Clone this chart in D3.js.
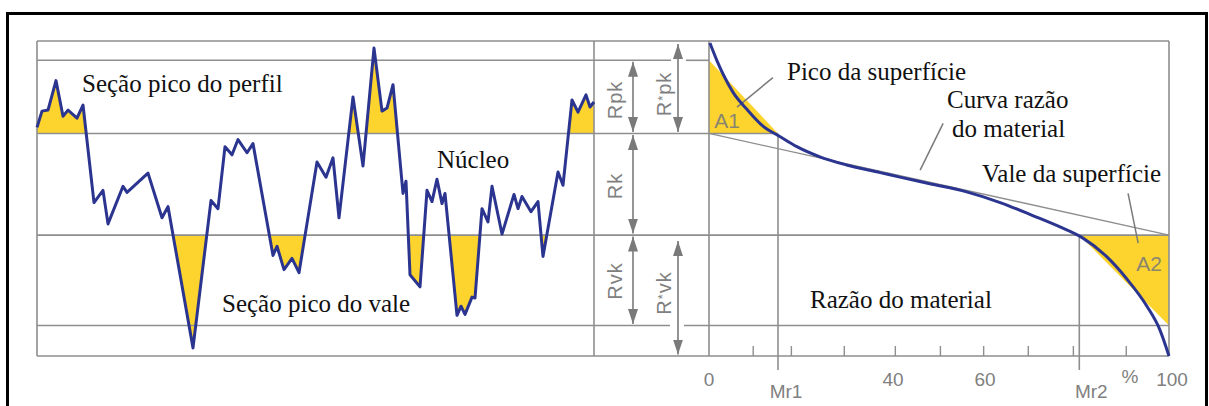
<!DOCTYPE html>
<html>
<head>
<meta charset="utf-8">
<script src="https://cdn.jsdelivr.net/npm/d3@7"></script>
<style>
  html, body { margin: 0; padding: 0; background: #fff; }
  svg { display: block; }
  .serif { font-family: "Liberation Serif", "Times New Roman", serif; font-size: 25px; fill: #111; }
  .sans { font-family: "Liberation Sans", Arial, sans-serif; fill: #808080; }
</style>
</head>
<body>
<script>
const W = 1209, H = 406;

// perfil: posição ao longo do traço (µm) e altura (µm)
const profilePos = [0, 5, 11, 19, 26, 31, 40, 46, 57, 66, 71, 86, 90, 111, 125, 131, 156, 174, 181, 188,
  195, 201, 210, 216, 236, 240, 247, 255, 262, 280, 289, 296, 302, 316, 326, 337, 345, 350, 356, 366,
  369, 373, 383, 390, 395, 400, 405, 408, 420, 424, 428, 435, 438, 445, 451, 455, 465, 477, 481, 485,
  494, 501, 506, 521, 526, 535, 541, 549, 553, 557];
const profileHeight = [10.6, 12.2, 12.3, 15.2, 11.7, 12.3, 11.5, 12.8, 3.2, 4.4, 1.1, 4.8, 4.2, 6.1, 1.7, 2.8, -11.1, 3.4, 2.6, 8.7,
  7.9, 9.4, 8.1, 9.0, -2.0, -1.1, -3.4, -2.3, -3.7, 7.2, 5.7, 7.6, 1.7, 13.6, 6.8, 18.4, 12.2, 12.5, 14.8, 4.1,
  5.3, -3.9, -5.1, 4.4, 3.3, 5.5, 3.1, 4.1, -7.9, -7.0, -7.8, -6.1, -6.2, 2.6, 1.3, 4.8, 0.1, 4.0, 2.6, 3.8,
  2.3, 3.3, -2.1, 6.2, 4.9, 13.3, 12.1, 13.8, 12.6, 13.1];

// curva razão do material (Abbott): % e altura
const ratioPct = [0.2, 1.7, 3.1, 5.3, 8.2, 11.8, 15.4, 19.1, 24.1, 29.9, 37.2, 41.5, 48.0, 56.0, 63.3, 70.5, 76.3, 81.3, 86.4, 90.8, 95.2, 98.0, 100];
const ratioHeight = [18.9, 17.2, 15.8, 14.0, 12.4, 10.7, 9.7, 8.7, 7.7, 6.9, 6.15, 5.7, 5.05, 4.25, 3.2, 1.9, 0.8, -0.3, -2.1, -4.3, -7.0, -9.3, -11.9];

// níveis de referência (µm)
const levelTop = 19.1, levelPeak = 17.2, levelCoreTop = 10, levelCoreBottom = 0, levelValley = -8.9, levelBottom = -11.9;
const mr1 = 15, mr2 = 80.5;

// eixo da razão do material
const tickValues = [9.5, 17.8, 29.3, 40.4, 50.2, 59.6, 69.3, 79.1, 90.6];
const tickLabelValues = [0, 40, 60, 100];

const yellow = '#fdd42e', blue = '#2b3590', grid = '#8e8e8e', dim = '#7a7a7a';

const svg = d3.select('body').append('svg').attr('width', W).attr('height', H);

const xP = d3.scaleLinear().domain([0, 557]).range([37, 594]);
const xR = d3.scaleLinear().domain([0, 100]).range([709, 1169]);
const yH = d3.scaleLinear().domain([levelBottom, levelTop]).range([356, 41]);

const profile = profilePos.map((p, i) => ({pos: p, h: profileHeight[i]}));
const ratio = ratioPct.map((p, i) => ({pct: p, h: ratioHeight[i]}));

const defs = svg.append('defs');
defs.append('clipPath').attr('id', 'above').append('rect')
  .attr('x', xP(0)).attr('y', yH(levelTop))
  .attr('width', xP(557) - xP(0)).attr('height', yH(levelCoreTop) - yH(levelTop));
defs.append('clipPath').attr('id', 'below').append('rect')
  .attr('x', xP(0)).attr('y', yH(levelCoreBottom))
  .attr('width', xP(557) - xP(0)).attr('height', yH(levelBottom) - yH(levelCoreBottom));
defs.append('marker').attr('id', 'arr')
  .attr('viewBox', '0 0 15 10').attr('refX', 15).attr('refY', 5)
  .attr('markerWidth', 15).attr('markerHeight', 10)
  .attr('markerUnits', 'userSpaceOnUse').attr('orient', 'auto-start-reverse')
  .append('path').attr('d', 'M0,0L15,5L0,10Z').attr('fill', dim);

// moldura preta
svg.append('rect').attr('x', 7.5).attr('y', 13.5).attr('width', 1199).attr('height', 420)
  .attr('fill', 'none').attr('stroke', '#000').attr('stroke-width', 3);

// áreas amarelas do perfil
const area = lvl => d3.area().x(d => xP(d.pos)).y0(yH(lvl)).y1(d => yH(d.h));
svg.append('path').datum(profile).attr('d', area(levelCoreTop)).attr('fill', yellow).attr('clip-path', 'url(#above)');
svg.append('path').datum(profile).attr('d', area(levelCoreBottom)).attr('fill', yellow).attr('clip-path', 'url(#below)');

// triângulos A1 e A2
const tri = pts => d3.line().x(d => xR(d[0])).y(d => yH(d[1]))(pts) + 'Z';
svg.append('path').attr('d', tri([[0, levelPeak], [0, levelCoreTop], [mr1, levelCoreTop]])).attr('fill', yellow);
svg.append('path').attr('d', tri([[mr2, levelCoreBottom], [100, levelCoreBottom], [100, levelValley]])).attr('fill', yellow);

// linhas da grade
const g = svg.append('g').attr('stroke', grid).attr('stroke-width', 1.6).attr('fill', 'none');
const hline = (lvl, x1, x2) => g.append('line').attr('x1', x1).attr('x2', x2).attr('y1', yH(lvl)).attr('y2', yH(lvl));
const vline = (x, l1, y2) => g.append('line').attr('x1', x).attr('x2', x).attr('y1', yH(l1)).attr('y2', y2);
hline(levelTop, xP(0), xR(100));
hline(levelPeak, xP(0), 671); hline(levelPeak, 686, xR(0));
hline(levelCoreTop, xP(0), xR(mr1));
hline(levelCoreBottom, xP(0), xR(100));
hline(levelValley, xP(0), 670); hline(levelValley, 684, xR(100));
hline(levelBottom, xP(0), xR(100));
[xP(0), xP(557), xR(0), xR(100)].forEach(x => vline(x, levelTop, yH(levelBottom)));
vline(xR(mr1), levelCoreTop, 370);
vline(xR(mr2), levelCoreBottom, 370);

// reta equivalente
svg.append('line').attr('x1', xR(0)).attr('y1', yH(levelCoreTop)).attr('x2', xR(100)).attr('y2', yH(levelCoreBottom))
  .attr('stroke', grid).attr('stroke-width', 1.3);

// eixo inferior
svg.append('g').attr('transform', `translate(0,${yH(levelBottom)})`)
  .call(d3.axisBottom(xR).tickValues(tickValues).tickSizeInner(-10).tickSizeOuter(0).tickFormat(''))
  .call(a => a.select('.domain').remove())
  .call(a => a.selectAll('line').attr('stroke', grid).attr('stroke-width', 1.4));

svg.selectAll('.tl').data(tickLabelValues).join('text').attr('class', 'sans')
  .attr('x', d => xR(d) + (d === 100 ? 3 : 0)).attr('y', 386).attr('text-anchor', 'middle')
  .style('font-size', '19px').text(d => d);
svg.append('text').attr('class', 'sans').attr('x', xR(mr1) + 8).attr('y', 398).attr('text-anchor', 'middle')
  .style('font-size', '19px').text('Mr1');
svg.append('text').attr('class', 'sans').attr('x', xR(mr2) + 12).attr('y', 398).attr('text-anchor', 'middle')
  .style('font-size', '19px').text('Mr2');
svg.append('text').attr('class', 'sans').attr('x', 1130).attr('y', 383).attr('text-anchor', 'middle')
  .style('font-size', '19px').text('%');

// setas de cota
const arrows = [
  [633, levelPeak, levelCoreTop, 1.5],
  [633, levelCoreTop, levelCoreBottom, 1.5],
  [633, levelCoreBottom, levelValley, 1.5],
  [678, levelTop, levelCoreTop, 3],
  [678, levelCoreBottom, levelBottom, 6]
];
arrows.forEach(([x, a, b, inset]) => {
  svg.append('line').attr('x1', x).attr('x2', x)
    .attr('y1', yH(a) + inset).attr('y2', yH(b) - 1.5)
    .attr('stroke', dim).attr('stroke-width', 1.6)
    .attr('marker-start', 'url(#arr)').attr('marker-end', 'url(#arr)');
});

const rot = (x, y, parts) => {
  const t = svg.append('text').attr('class', 'sans').attr('text-anchor', 'middle')
    .attr('transform', `translate(${x},${y}) rotate(-90)`).style('font-size', '20px').style('letter-spacing', '1px');
  parts.forEach(([s, small]) => t.append('tspan').text(s)
    .style('font-size', small ? '13px' : null).attr('dy', small ? -4 : null));
  if (parts.length > 1) t.selectAll('tspan').filter((d, i) => i === 2).attr('dy', 4);
};
rot(622, 100, [['Rpk']]);
rot(671, 94, [['R'], ['*', true], ['pk']]);
rot(622, 186, [['Rk']]);
rot(622, 281, [['Rvk']]);
rot(671, 293, [['R'], ['*', true], ['vk']]);

// A1 / A2
svg.append('text').attr('class', 'sans').attr('x', 727).attr('y', 128).attr('text-anchor', 'middle')
  .style('font-size', '21px').style('fill', '#8a8570').text('A1');
svg.append('text').attr('class', 'sans').attr('x', 1149).attr('y', 271).attr('text-anchor', 'middle')
  .style('font-size', '21px').style('fill', '#8a8570').text('A2');

// linhas de chamada
const leaders = [[[13.9, 15.5], [6.1, 12.6]], [[50.9, 11.0], [45.9, 6.4]], [[91.1, 4.1], [93.3, -0.8]]];
leaders.forEach(([p, q]) => svg.append('line')
  .attr('x1', xR(p[0])).attr('y1', yH(p[1])).attr('x2', xR(q[0])).attr('y2', yH(q[1]))
  .attr('stroke', dim).attr('stroke-width', 1.5));

// perfil e curva
svg.append('path').datum(profile)
  .attr('d', d3.line().x(d => xP(d.pos)).y(d => yH(d.h)))
  .attr('fill', 'none').attr('stroke', blue).attr('stroke-width', 3).attr('stroke-linejoin', 'round');
svg.append('path').datum(ratio)
  .attr('d', d3.line().curve(d3.curveMonotoneX).x(d => xR(d.pct)).y(d => yH(d.h)))
  .attr('fill', 'none').attr('stroke', blue).attr('stroke-width', 3);

// textos
const labels = [
  ['Seção pico do perfil', 82, 92],
  ['Seção pico do vale', 222, 312],
  ['Núcleo', 437, 168],
  ['Pico da superfície', 787, 80],
  ['Curva razão', 947, 108],
  ['do material', 952, 137],
  ['Vale da superfície', 982, 182],
  ['Razão do material', 810, 308]
];
svg.selectAll('.lab').data(labels).join('text').attr('class', 'serif')
  .attr('x', d => d[1]).attr('y', d => d[2]).text(d => d[0]);
</script>
</body>
</html>
